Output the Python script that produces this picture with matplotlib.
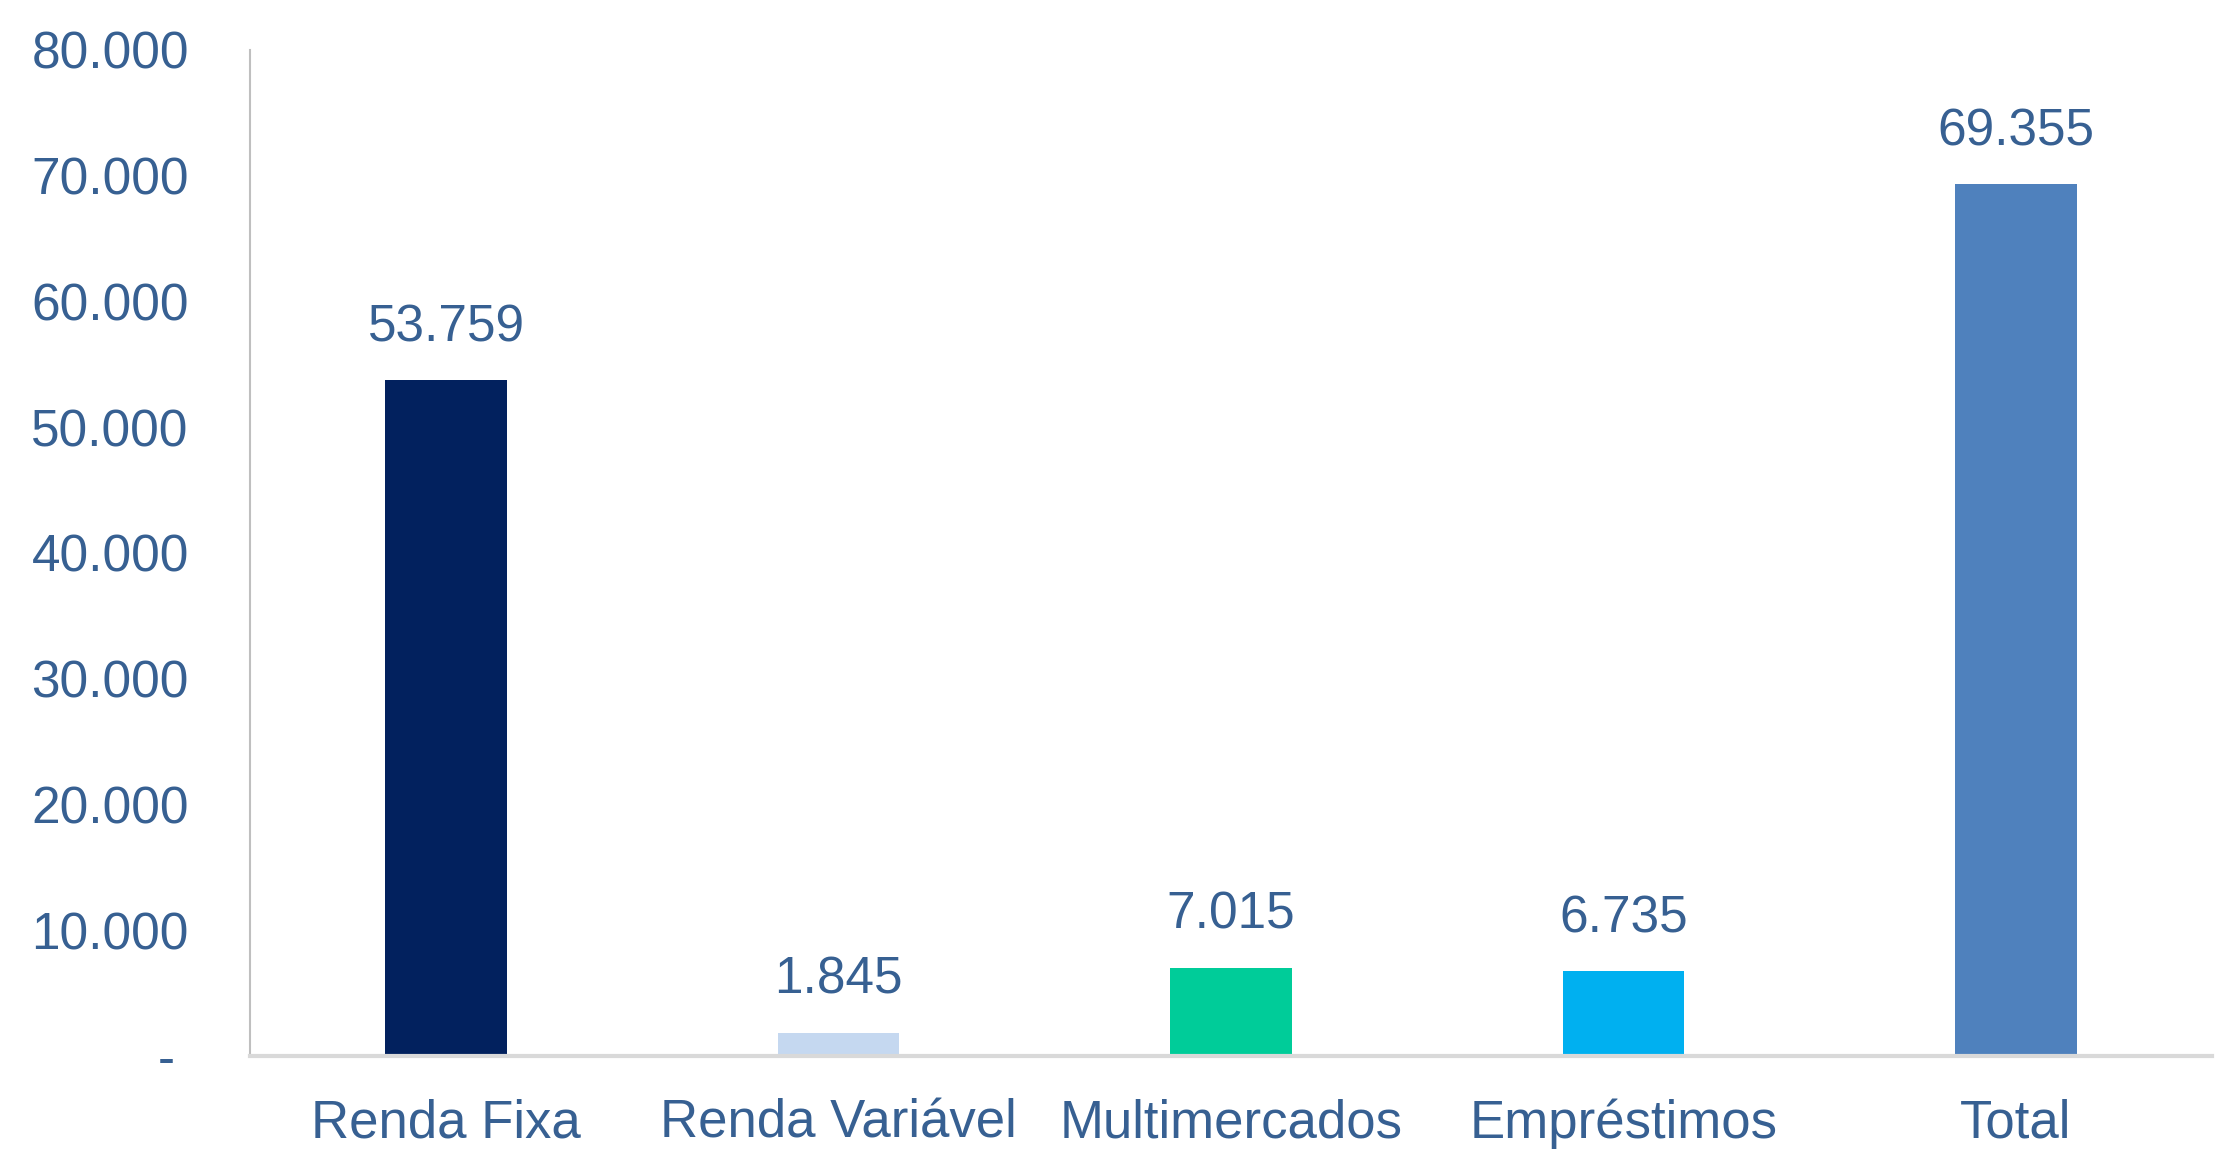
import matplotlib.pyplot as plt
from matplotlib.ticker import FuncFormatter

plt.rcParams["font.family"] = ["Liberation Sans", "DejaVu Sans"]

# ── Data ──────────────────────────────────────────────────────────────────────
categories = ["Renda Fixa", "Renda Variável", "Multimercados", "Empréstimos", "Total"]
values = [53759, 1845, 7015, 6735, 69355]
bar_colors = ["#02215E", "#C5D8F0", "#00CC99", "#00B0F0", "#4F81BD"]

TEXT = "#376092"


def br_fmt(v, _pos=None):
    # Excel accounting style: thousands with ".", zero shown as "-"
    if v == 0:
        return "- "
    return f"{v:,.0f}".replace(",", ".")


# ── Plot ──────────────────────────────────────────────────────────────────────
fig = plt.figure(figsize=(22.31, 11.49), dpi=100)
ax = fig.add_axes([0.112, 0.081, 0.8795, 0.8755])

x = range(len(categories))
bars = ax.bar(x, values, width=0.31, color=bar_colors, zorder=2)

for b, v in zip(bars, values):
    ax.annotate(br_fmt(v), (b.get_x() + b.get_width() / 2, v),
                xytext=(0, 20), textcoords="offset points",
                ha="center", va="bottom", fontsize=37, color=TEXT)

ax.set_xlim(-0.5, len(categories) - 0.5)
ax.set_ylim(0, 80000)
ax.set_yticks(range(0, 80001, 10000))
ax.yaxis.set_major_formatter(FuncFormatter(br_fmt))
ax.set_xticks(list(x))
ax.set_xticklabels(categories)

ax.tick_params(axis="y", length=0, pad=44, labelsize=37, labelcolor=TEXT)
ax.tick_params(axis="x", length=0, pad=31, labelsize=38, labelcolor=TEXT)

for side in ("top", "right"):
    ax.spines[side].set_visible(False)
ax.spines["left"].set_color("#BFBFBF")
ax.spines["left"].set_linewidth(1.5)
ax.spines["bottom"].set_color("#D9D9D9")
ax.spines["bottom"].set_linewidth(3)

fig.savefig("out.png", dpi=100)
